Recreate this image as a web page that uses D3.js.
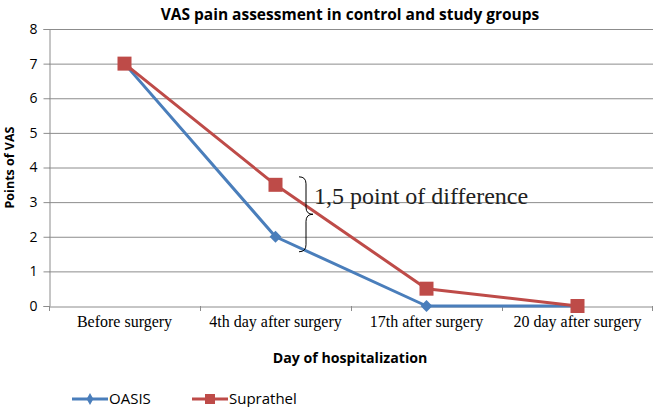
<!DOCTYPE html>
<html><head><meta charset="utf-8">
<script src="https://cdn.jsdelivr.net/npm/d3@7"></script>
<style>body{margin:0;background:#fff}svg{display:block}</style>
</head><body>
<script>
const categories = ["Before surgery","4th day after surgery","17th after surgery","20 day after surgery"];
const oasis = [7, 2, 0, 0];
const suprathel = [7, 3.5, 0.5, 0];
const yTicks = [0,1,2,3,4,5,6,7,8];
const seriesNames = ["OASIS","Suprathel"];
const colors = ["#4a7ebb","#be4b48"];
const annotationText = "1,5 point of difference";

const W=653,H=407;
const m={l:49,r:0,t:29,b:101};
const svg=d3.select("body").append("svg").attr("width",W).attr("height",H);
const x=d3.scaleBand().domain(categories).range([m.l,W-m.r]);
const y=d3.scaleLinear().domain([0,8]).range([H-m.b,m.t]);
const sans="'Open Sans', Lato, sans-serif";
const serif="'Liberation Serif','DejaVu Serif',serif";

// grid
svg.append("g").selectAll("line").data(yTicks.filter(d=>d>0)).join("line")
  .attr("x1",m.l).attr("x2",W).attr("y1",d=>y(d)+0.5).attr("y2",d=>y(d)+0.5)
  .attr("stroke","#8c8c8c").attr("stroke-width",1);

// y axis
const ya=svg.append("g").attr("transform",`translate(${m.l+0.5},0)`)
  .call(d3.axisLeft(y).tickValues(yTicks).tickSize(6).tickPadding(6));
ya.select(".domain").attr("stroke","#8c8c8c");
ya.selectAll(".tick line").attr("stroke","#8c8c8c");
ya.selectAll("text").attr("font-family",sans).attr("font-size",14).attr("fill","#000");

// x axis
const xa=svg.append("g").attr("transform",`translate(0,${y(0)+0.5})`)
  .call(d3.axisBottom(x).tickSize(0).tickPadding(9));
xa.select(".domain").attr("stroke","#8c8c8c");
xa.selectAll("text").attr("font-family",serif).attr("font-size",16).attr("fill","#000");
// boundary ticks
const bounds=categories.map(c=>x(c)).concat([x(categories[3])+x.bandwidth()]);
svg.append("g").selectAll("line").data(bounds).join("line")
  .attr("x1",d=>Math.min(d,W-1)+0.5).attr("x2",d=>Math.min(d,W-1)+0.5)
  .attr("y1",y(0)).attr("y2",y(0)+5).attr("stroke","#8c8c8c");

const cx=c=>x(c)+x.bandwidth()/2;
const line=d3.line().x((d,i)=>cx(categories[i])).y(d=>y(d));

// lines
[oasis,suprathel].forEach((s,k)=>{
  svg.append("path").datum(s).attr("d",line).attr("fill","none")
    .attr("stroke",colors[k]).attr("stroke-width",3).attr("stroke-linejoin","round");
});
// markers
svg.append("g").selectAll("path").data(oasis).join("path")
  .attr("transform",(d,i)=>`translate(${cx(categories[i])},${y(d)})`)
  .attr("d",d3.symbol(d3.symbolDiamond2 || d3.symbolDiamond,90)).attr("fill",colors[0]);
svg.append("g").selectAll("rect").data(suprathel).join("rect")
  .attr("x",(d,i)=>cx(categories[i])-7).attr("y",d=>y(d)-7)
  .attr("width",14).attr("height",14).attr("fill",colors[1]);

// brace annotation between OASIS and Suprathel at 4th day
const bx=306, yTop=y(suprathel[1])-8, yBot=y(oasis[1])+15, yMid=(yTop+yBot)/2;
svg.append("path").attr("fill","none").attr("stroke","#000").attr("stroke-width",1)
  .attr("d",`M${bx-7},${yTop} Q${bx},${yTop} ${bx},${yTop+7} L${bx},${yMid-7} Q${bx},${yMid} ${bx+7},${yMid} Q${bx},${yMid} ${bx},${yMid+7} L${bx},${yBot-7} Q${bx},${yBot} ${bx-7},${yBot}`);
svg.append("text").attr("x",bx+8).attr("y",yMid-10).attr("font-family",serif)
  .attr("font-size",24).attr("fill","#222").text(annotationText);

// title
svg.append("text").attr("x",350).attr("y",20).attr("text-anchor","middle")
  .attr("font-family",sans).attr("font-weight","bold").attr("font-size",15.5).text("VAS pain assessment in control and study groups");
// axis titles
svg.append("text").attr("transform",`translate(14,${(y(0)+y(8))/2}) rotate(-90)`).attr("text-anchor","middle")
  .attr("font-family",sans).attr("font-weight","bold").attr("font-size",12.5).text("Points of VAS");
svg.append("text").attr("x",350).attr("y",363).attr("text-anchor","middle")
  .attr("font-family",sans).attr("font-weight","bold").attr("font-size",14.2).text("Day of hospitalization");

// legend
const lg=svg.append("g");
const lx=[72,192];
seriesNames.forEach((n,k)=>{
  const g=lg.append("g").attr("transform",`translate(${lx[k]},399)`);
  g.append("line").attr("x1",0).attr("x2",36).attr("stroke",colors[k]).attr("stroke-width",3);
  if(k===0) g.append("path").attr("transform","translate(18,0)").attr("d",d3.symbol(d3.symbolDiamond,40)).attr("fill",colors[k]);
  else g.append("rect").attr("x",13).attr("y",-5).attr("width",10).attr("height",10).attr("fill",colors[k]);
  g.append("text").attr("x",37).attr("y",5).attr("font-family",sans).attr("font-size",15).text(n);
});
</script>
</body></html>
